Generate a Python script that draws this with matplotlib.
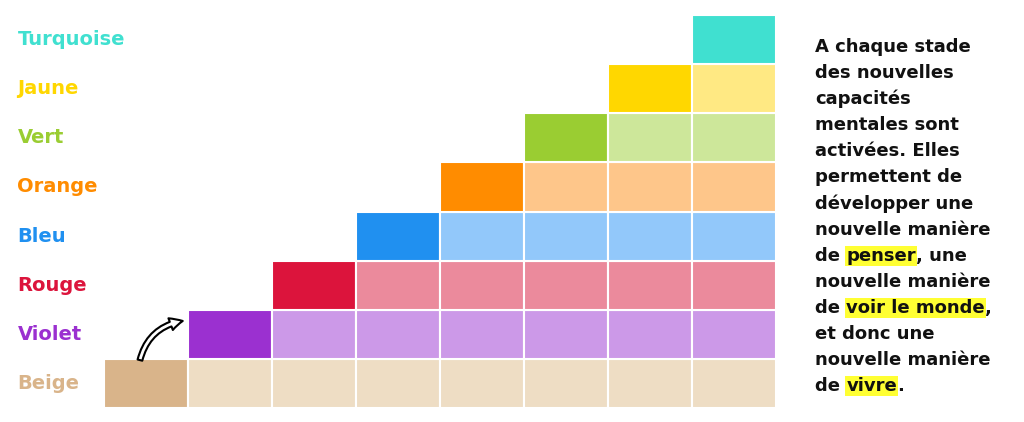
import numpy as np
import matplotlib
matplotlib.use("Agg")
from matplotlib import pyplot as plt
from matplotlib.patches import FancyArrowPatch

levels = ["Beige", "Violet", "Rouge", "Bleu", "Orange", "Vert", "Jaune", "Turquoise"]
full_colors = ["#D9B48A", "#9B30D0", "#DC143C", "#2090F0", "#FF8C00", "#9ACD32", "#FFD700", "#40E0D0"]
light_colors = ["#EEDDC4", "#CC99E8", "#EB8A9C", "#92C8FA", "#FEC68A", "#CDE79A", "#FFE983", "#40E0D0"]
n_cols = 8

lines = [
    [("A chaque stade", False)],
    [("des nouvelles", False)],
    [("capacités", False)],
    [("mentales sont", False)],
    [("activées. Elles", False)],
    [("permettent de", False)],
    [("développer une", False)],
    [("nouvelle manière", False)],
    [("de ", False), ("penser", True), (", une", False)],
    [("nouvelle manière", False)],
    [("de ", False), ("voir le monde", True), (",", False)],
    [("et donc une", False)],
    [("nouvelle manière", False)],
    [("de ", False), ("vivre", True), (".", False)],
]

W, H = 1024, 422
fig = plt.figure(figsize=(W/100, H/100), dpi=100)
ax = fig.add_axes([104/W, 14/H, 672/W, 393/H])
for i, lvl in enumerate(levels):
    for c in range(i, n_cols):
        col = full_colors[i] if c == i else light_colors[i]
        ax.bar(c + 0.5, 1, bottom=i, width=1, color=col, edgecolor="white", linewidth=1.5)
    ax.text(-1.03, i + 0.5, lvl, color=full_colors[i], fontsize=14, fontweight="bold",
            family="DejaVu Sans", ha="left", va="center")
ax.set_xlim(0, n_cols)
ax.set_ylim(0, len(levels))
ax.axis("off")

# curved arrow from Beige to Violet
arr = FancyArrowPatch((0.42, 0.92), (0.97, 1.78), connectionstyle="arc3,rad=-0.35",
                      arrowstyle="simple,head_width=9,head_length=9,tail_width=3.5",
                      fc="white", ec="black", lw=1.5, clip_on=False)
ax.add_patch(arr)

# paragraph on the right, word pieces placed one after another
fig.canvas.draw()
r = fig.canvas.get_renderer()
y0, dy = 47, 26.1
for k, parts in enumerate(lines):
    x = 815
    y = H - (y0 + k*dy)
    for s, hl in parts:
        kw = {}
        if hl:
            kw["bbox"] = dict(boxstyle="square,pad=0.05", fc="#FFFF33", ec="none")
        t = fig.text(x/W, y/H, s, fontsize=13, fontweight="bold", family="DejaVu Sans",
                     ha="left", va="center", color="#111111", **kw)
        if s.endswith(" "):
            t2 = fig.text(0, 0, s.strip() + "\u00a0", fontsize=13, fontweight="bold", family="DejaVu Sans")
            w = t2.get_window_extent(r).width
            t2.remove()
        else:
            w = t.get_window_extent(r).width
        x += w

fig.savefig("out.png", dpi=100)
